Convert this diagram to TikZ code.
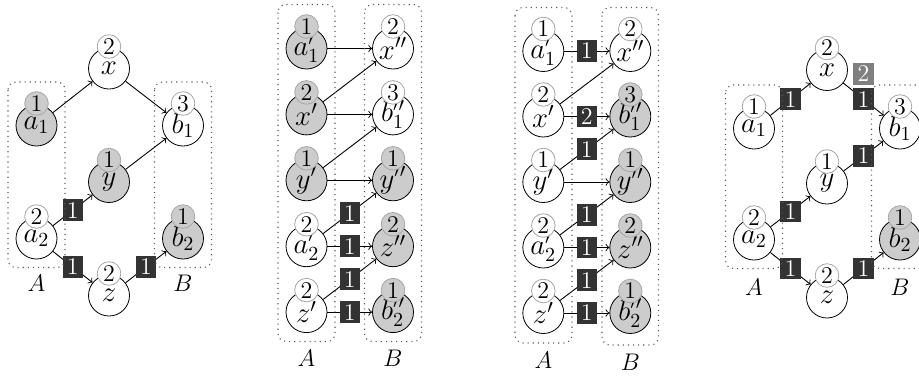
\documentclass[tikz,border=0pt]{standalone}
\usetikzlibrary{calc}
\tikzset{
  vnode/.style={circle,draw,fill=white,minimum size=20.5pt,inner sep=0pt,font=\Large},
  gv/.style={fill=black!20},
  cnode/.style={circle,draw=black!35,fill=white,minimum size=11.8pt,inner sep=0pt,font=\large},
  gc/.style={fill=black!20},
  sq/.style={fill=black!80,text=white,minimum width=10.2pt,minimum height=10.8pt,inner sep=0pt,font=\large},
  gsq/.style={fill=black!50},
  edge/.style={->,line width=0.45pt},
  grp/.style={draw=black!65,dotted,line width=0.55pt,rounded corners=4pt},
  setlab/.style={font=\large}
}
% name, position, text, count, node style, count style
\newcommand{\vtx}[6]{%
  \node[vnode,#5] (#1) at #2 {$#3$};
  \node[cnode,#6] (#1c) at ($(#1)+(0,-22)$) {#4};
}
\begin{document}
\begin{tikzpicture}[x=0.5pt,y=-0.5pt]
\useasboundingbox (0,0) rectangle (919,376);
\clip (0,0) rectangle (919,376);

% ---------------- panel 1 ----------------
\vtx{pa1}{(36.5,125.5)}{a_1}{1}{gv}{gc}
\vtx{px}{(109,68.5)}{x}{2}{}{}
\vtx{pb1}{(183,125.5)}{b_1}{3}{}{}
\vtx{py}{(109,182)}{y}{1}{gv}{gc}
\vtx{pa2}{(36.5,238.5)}{a_2}{2}{}{}
\vtx{pb2}{(183,238.5)}{b_2}{1}{gv}{gc}
\vtx{pz}{(109,295.5)}{z}{2}{}{}
\draw[edge] (pa1) -- (px);
\draw[edge] (px) -- (pb1);
\draw[edge] (py) -- (pb1);
\draw[edge] (pa2) -- node[sq] (pq1) {1} (py);
\draw[edge] (pa2) -- node[sq] (pq2) {1} (pz);
\draw[edge] (pz) -- node[sq] (pq3) {1} (pb2);
\draw[grp] (8,82) rectangle (65,267.5);
\draw[grp] (154.5,82) rectangle (211.5,267.5);
\node[setlab] (pA) at (36.5,283) {$A$};
\node[setlab] (pB) at (183,283) {$B$};

% ---------------- panel 2 ----------------
\vtx{qa1}{(306.5,48.5)}{a'_1}{1}{gv}{gc}
\vtx{qx}{(306.5,114.4)}{x'}{2}{gv}{gc}
\vtx{qy}{(306.5,180.3)}{y'}{1}{gv}{gc}
\vtx{qa2}{(306.5,246.2)}{a'_2}{2}{}{}
\vtx{qz}{(306.5,312.1)}{z'}{2}{}{}
\vtx{qxx}{(393,48.5)}{x''}{2}{}{}
\vtx{qb1}{(393,114.4)}{b''_1}{3}{}{}
\vtx{qyy}{(393,180.3)}{y''}{1}{gv}{gc}
\vtx{qzz}{(393,246.2)}{z''}{2}{gv}{gc}
\vtx{qb2}{(393,312.1)}{b''_2}{1}{gv}{gc}
\draw[edge] (qa1) -- (qxx);
\draw[edge] (qx) -- (qxx);
\draw[edge] (qx) -- (qb1);
\draw[edge] (qy) -- (qb1);
\draw[edge] (qy) -- (qyy);
\draw[edge] (qa2) -- node[sq] (qq1) {1} (qyy);
\draw[edge] (qa2) -- node[sq] (qq2) {1} (qzz);
\draw[edge] (qz) -- node[sq] (qq3) {1} (qzz);
\draw[edge] (qz) -- node[sq] (qq4) {1} (qb2);
\draw[grp] (278,4.5) rectangle (335,341.5);
\draw[grp] (364.5,4.5) rectangle (421.5,341.5);
\node[setlab] (qA) at (306.5,358.5) {$A$};
\node[setlab] (qB) at (393,358.5) {$B$};

% ---------------- panel 3 ----------------
\vtx{ra1}{(543.3,51)}{a'_1}{1}{}{}
\vtx{rx}{(543.3,116.5)}{x'}{2}{}{}
\vtx{ry}{(543.3,182)}{y'}{1}{}{}
\vtx{ra2}{(543.3,247.5)}{a'_2}{2}{}{}
\vtx{rz}{(543.3,313)}{z'}{2}{}{}
\vtx{rxx}{(630.3,51)}{x''}{2}{}{}
\vtx{rb1}{(630.3,116.5)}{b''_1}{3}{gv}{gc}
\vtx{ryy}{(630.3,182)}{y''}{1}{gv}{gc}
\vtx{rzz}{(630.3,247.5)}{z''}{2}{gv}{gc}
\vtx{rb2}{(630.3,313)}{b''_2}{1}{gv}{gc}
\draw[edge] (ra1) -- node[sq] (rq1) {1} (rxx);
\draw[edge] (rx) -- (rxx);
\draw[edge] (rx) -- node[sq] (rq2) {2} (rb1);
\draw[edge] (ry) -- node[sq] (rq3) {1} (rb1);
\draw[edge] (ry) -- (ryy);
\draw[edge] (ra2) -- node[sq] (rq4) {1} (ryy);
\draw[edge] (ra2) -- node[sq] (rq5) {1} (rzz);
\draw[edge] (rz) -- node[sq] (rq6) {1} (rzz);
\draw[edge] (rz) -- node[sq] (rq7) {1} (rb2);
\draw[grp] (515,7.5) rectangle (572,343);
\draw[grp] (602,7.5) rectangle (658.5,345);
\node[setlab] (rA) at (543.3,360) {$A$};
\node[setlab] (rB) at (630.3,362) {$B$};

% ---------------- panel 4 ----------------
\vtx{sa1}{(754,128.5)}{a_1}{1}{}{}
\vtx{sx}{(827,70)}{x}{2}{}{}
\vtx{sb1}{(900,128.5)}{b_1}{3}{}{}
\vtx{sy}{(827,183.5)}{y}{1}{}{}
\vtx{sa2}{(754,239.5)}{a_2}{2}{}{}
\vtx{sb2}{(900,239.5)}{b_2}{1}{gv}{gc}
\vtx{sz}{(827,297.5)}{z}{2}{}{}
\draw[edge] (sa1) -- node[sq] (sq1) {1} (sx);
\draw[edge] (sx) -- node[sq] (sq2) {1} (sb1);
\node[sq,gsq,anchor=south] (sq2g) at ($(sq2.north)+(0,-3)$) {2};
\draw[edge] (sy) -- node[sq] (sq3) {1} (sb1);
\draw[edge] (sa2) -- node[sq] (sq4) {1} (sy);
\draw[edge] (sa2) -- node[sq] (sq5) {1} (sz);
\draw[edge] (sz) -- node[sq] (sq6) {1} (sb2);
\draw[grp] (725.5,85) rectangle (782.5,268.5);
\draw[grp] (871.5,85) rectangle (928.5,268.5);
\node[setlab] (sA) at (754,287) {$A$};
\node[setlab] (sB) at (900,287) {$B$};
\end{tikzpicture}
\end{document}
